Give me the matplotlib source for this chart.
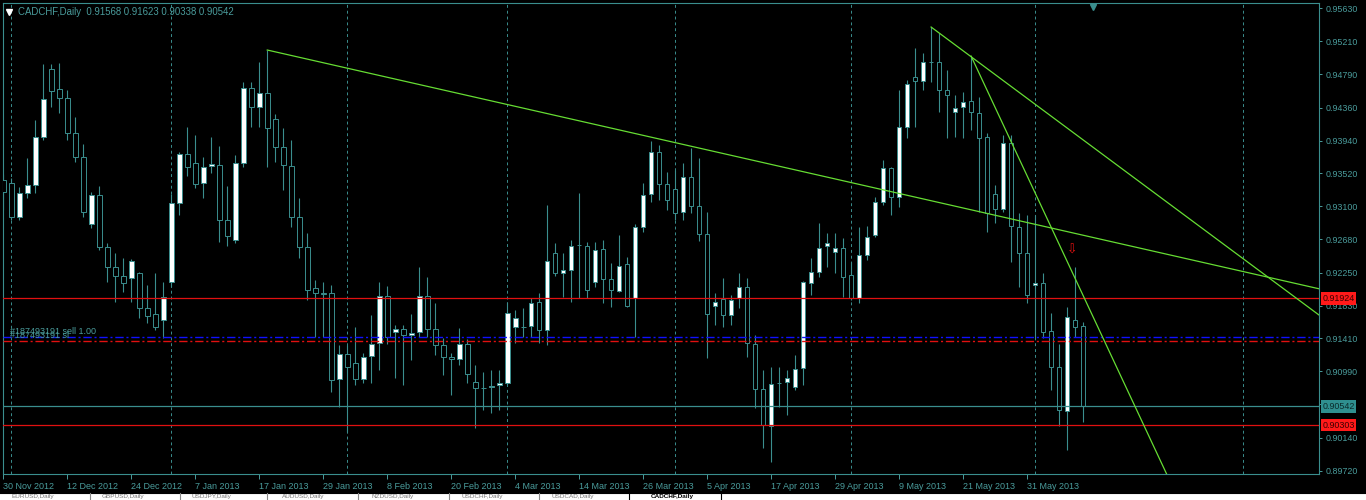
import matplotlib
matplotlib.use("Agg")
import matplotlib.pyplot as plt
import matplotlib.transforms as mtransforms
from matplotlib.patches import Rectangle
from matplotlib.lines import Line2D
import pandas as pd

plt.rcParams['font.family'] = ['Liberation Sans', 'DejaVu Sans']

W, H = 1366, 500
TEAL = '#3a8e8e'
TEAL_TXT = '#4a9c9c'
RED = '#e01010'
GREEN = '#66dd33'

symbol = "CADCHF,Daily"
holidays = ["2012-12-25", "2013-01-01"]
dates = pd.bdate_range("2012-11-30", "2013-06-11", freq="C", holidays=holidays)

# daily OHLC
opens = [0.93436, 0.93397, 0.92963, 0.93270, 0.93372, 0.93985, 0.94854, 0.94599, 0.94484, 0.94036,
         0.93730, 0.92873, 0.93244, 0.92579, 0.92324, 0.92209, 0.92183, 0.92247, 0.91800, 0.91723,
         0.91646, 0.92132, 0.93142, 0.93768, 0.93653, 0.93397, 0.93615, 0.93627, 0.92924, 0.92669,
         0.93653, 0.94611, 0.94369, 0.94548, 0.94215, 0.93857, 0.93615, 0.92963, 0.92579, 0.92055,
         0.91992, 0.91992, 0.90892, 0.91212, 0.91097, 0.90892, 0.91186, 0.91352, 0.91953, 0.91493,
         0.91531, 0.91455, 0.91493, 0.91953, 0.91531, 0.91327, 0.91174, 0.91148, 0.91340, 0.90854,
         0.90777, 0.90784, 0.90816, 0.90841, 0.91557, 0.91557, 0.91570, 0.91876, 0.91519, 0.92503,
         0.92247, 0.92285, 0.92605, 0.92592, 0.92132, 0.92554, 0.92170, 0.92017, 0.92362, 0.91928,
         0.92835, 0.93257, 0.93793, 0.93385, 0.93321, 0.93027, 0.93474, 0.93103, 0.92746, 0.91825,
         0.91915, 0.91710, 0.91928, 0.92068, 0.91340, 0.90765, 0.90292, 0.90841, 0.90854, 0.90790,
         0.91033, 0.92119, 0.92260, 0.92592, 0.92515, 0.92567, 0.92222, 0.91928, 0.92477, 0.92733,
         0.93154, 0.93589, 0.93218, 0.94113, 0.94752, 0.94701, 0.94944, 0.94944, 0.94586, 0.94305,
         0.94369, 0.94445, 0.94292, 0.93985, 0.93257, 0.93065, 0.93908, 0.92835, 0.92503, 0.92094,
         0.92119, 0.91506, 0.91046, 0.90483, 0.91646, 0.91568]
highs = [0.93512, 0.93461, 0.93346, 0.93717, 0.94202, 0.94918, 0.94918, 0.94931, 0.94586, 0.94241,
         0.93896, 0.93282, 0.93359, 0.92630, 0.92503, 0.92439, 0.92426, 0.92260, 0.92094, 0.92247,
         0.92132, 0.93257, 0.93793, 0.94113, 0.94011, 0.93730, 0.93985, 0.93870, 0.93359, 0.93755,
         0.94688, 0.94688, 0.94944, 0.95097, 0.94279, 0.94100, 0.93947, 0.93206, 0.92758, 0.92158,
         0.92132, 0.92094, 0.91327, 0.91327, 0.91557, 0.91225, 0.91710, 0.92132, 0.92081, 0.91582,
         0.91582, 0.91723, 0.92324, 0.92196, 0.91864, 0.91416, 0.91225, 0.91544, 0.91404, 0.91071,
         0.90982, 0.91007, 0.91007, 0.91876, 0.91774, 0.91800, 0.91928, 0.91992, 0.93116, 0.92630,
         0.92503, 0.92669, 0.93270, 0.92643, 0.92643, 0.92669, 0.92375, 0.92733, 0.92452, 0.92873,
         0.93397, 0.93934, 0.93883, 0.93538, 0.93563, 0.93653, 0.93845, 0.93717, 0.93027, 0.91992,
         0.92183, 0.91966, 0.92247, 0.92183, 0.91455, 0.91007, 0.91046, 0.91046, 0.91007, 0.91199,
         0.92145, 0.92439, 0.92886, 0.92758, 0.92758, 0.92694, 0.92388, 0.92835, 0.92848, 0.93218,
         0.93691, 0.93602, 0.94586, 0.94714, 0.95123, 0.95059, 0.95391, 0.95314, 0.94841, 0.94522,
         0.94560, 0.95020, 0.94496, 0.94036, 0.93372, 0.94011, 0.94011, 0.93014, 0.92988, 0.92988,
         0.92247, 0.91736, 0.91340, 0.91813, 0.92324, 0.91623]
lows = [0.93052, 0.92924, 0.92924, 0.93206, 0.93270, 0.93947, 0.94369, 0.94292, 0.93947, 0.93666,
        0.92963, 0.92822, 0.92541, 0.92132, 0.91876, 0.92004, 0.91876, 0.91672, 0.91608, 0.91519,
        0.91416, 0.92068, 0.92988, 0.93487, 0.93333, 0.93206, 0.93525, 0.92643, 0.92592, 0.92630,
        0.93602, 0.94113, 0.94113, 0.93602, 0.93666, 0.93308, 0.92835, 0.92439, 0.91902, 0.91429,
        0.91429, 0.90726, 0.90535, 0.90215, 0.90816, 0.90841, 0.90841, 0.91007, 0.91340, 0.90905,
        0.90816, 0.91135, 0.91429, 0.91429, 0.91199, 0.90944, 0.90688, 0.91071, 0.90841, 0.90266,
        0.90496, 0.90458, 0.90496, 0.90816, 0.91352, 0.91429, 0.91429, 0.91352, 0.91327, 0.92209,
        0.91940, 0.91876, 0.91928, 0.91928, 0.92068, 0.91864, 0.91813, 0.92004, 0.91813, 0.91429,
        0.92771, 0.93154, 0.93180, 0.93052, 0.92924, 0.92924, 0.93014, 0.92656, 0.91161, 0.91582,
        0.91557, 0.91582, 0.91800, 0.91174, 0.90522, 0.90011, 0.89832, 0.90535, 0.90432, 0.90752,
        0.90816, 0.91966, 0.92196, 0.92324, 0.92247, 0.91940, 0.91902, 0.91864, 0.92413, 0.92707,
        0.93116, 0.92988, 0.93091, 0.93972, 0.94113, 0.94586, 0.94688, 0.94305, 0.93972, 0.93985,
        0.93972, 0.94075, 0.93027, 0.92771, 0.92886, 0.93027, 0.92388, 0.92068, 0.91864, 0.91416,
        0.91416, 0.90752, 0.90292, 0.89985, 0.91429, 0.90338]
closes = [0.93282, 0.92963, 0.93270, 0.93372, 0.93985, 0.94471, 0.94573, 0.94484, 0.94036, 0.93730,
          0.93027, 0.93244, 0.92579, 0.92324, 0.92209, 0.92119, 0.92400, 0.91800, 0.91698, 0.91557,
          0.91940, 0.93142, 0.93768, 0.93602, 0.93385, 0.93602, 0.93640, 0.92924, 0.92720, 0.93653,
          0.94611, 0.94369, 0.94548, 0.94100, 0.93857, 0.93627, 0.92963, 0.92579, 0.92030, 0.91992,
          0.91985, 0.90880, 0.91212, 0.91046, 0.90892, 0.91174, 0.91340, 0.91953, 0.91429, 0.91531,
          0.91455, 0.91480, 0.91953, 0.91531, 0.91327, 0.91174, 0.91148, 0.91340, 0.90956, 0.90777,
          0.90774, 0.90809, 0.90841, 0.91736, 0.91672, 0.91559, 0.91864, 0.91519, 0.92400, 0.92247,
          0.92285, 0.92592, 0.92599, 0.92030, 0.92541, 0.92170, 0.92030, 0.92337, 0.91825, 0.92835,
          0.93244, 0.93793, 0.93385, 0.93180, 0.93014, 0.93474, 0.93103, 0.92746, 0.91723, 0.91876,
          0.91710, 0.91902, 0.92068, 0.91352, 0.90765, 0.90305, 0.90829, 0.90837, 0.90905, 0.91020,
          0.92132, 0.92260, 0.92567, 0.92630, 0.92567, 0.92196, 0.91928, 0.92477, 0.92707, 0.93154,
          0.93589, 0.93218, 0.94113, 0.94663, 0.94701, 0.94944, 0.94940, 0.94586, 0.94522, 0.94356,
          0.94432, 0.94305, 0.93972, 0.93014, 0.93065, 0.93908, 0.92848, 0.92503, 0.91966, 0.92119,
          0.91493, 0.91046, 0.90496, 0.91685, 0.91557, 0.90542]

red_levels = [0.91924, 0.90303]
bid = closes[-1]
order_price = 0.91425
stop_price = 0.91382
order_label = "#187493191 sell 1.00"
stop_label = "#187493191 sl"

# trend lines: (start bar, price), (second bar, price) -> extended to the right
trend_lines = [((33, 0.95097), (135, 0.92730)),
               ((116, 0.95391), (135, 0.93949)),
               ((121, 0.95020), (135, 0.91961))]
arrow_bar, arrow_price = 133.7, 0.9254

price_ticks = [0.95630, 0.95210, 0.94790, 0.94360, 0.93940, 0.93520, 0.93100, 0.92680,
               0.92250, 0.91830, 0.91410, 0.90990, 0.90570, 0.90140, 0.89720]
hidden_ticks = [0.90570]  # sits under the bid box
tabs = ["EURUSD,Daily", "GBPUSD,Daily", "USDJPY,Daily", "AUDUSD,Daily",
        "NZDUSD,Daily", "USDCHF,Daily", "USDCAD,Daily"]

x_max = 164.5
y_min, y_max = 0.89678, 0.95698

fig = plt.figure(figsize=(W / 100, H / 100), dpi=100, facecolor='black')
ax = fig.add_axes([2.5 / W, 26 / H, (1319 - 2.5) / W, 471 / H])
ax.set_facecolor('black')
ax.set_xlim(-0.1, x_max)
ax.set_ylim(y_min, y_max)

# month grid (plus the one in the empty shift area)
month_bars = [i for i in range(1, len(dates)) if dates[i].month != dates[i - 1].month]
month_bars.append(155)
for mb in month_bars:
    ax.axvline(mb, color=TEAL, lw=0.7, ls=(0, (3, 3)), zorder=1)

# candles
for i in range(len(opens)):
    o, h, l, c = opens[i], highs[i], lows[i], closes[i]
    ax.vlines(i, l, h, color=TEAL, lw=0.8, zorder=2)
    lo, hi = min(o, c), max(o, c)
    face = 'white' if c > o else 'black'
    ax.add_patch(Rectangle((i - 0.29, lo), 0.58, max(hi - lo, 1e-6),
                           facecolor=face, edgecolor=TEAL, lw=0.7, zorder=3))

# horizontal levels
for lv in red_levels:
    ax.axhline(lv, color=RED, lw=0.9, zorder=4)
ax.axhline(bid, color=TEAL, lw=0.9, zorder=4)
ax.axhline(order_price, color='#1010ff', lw=1.0, ls=(0, (6, 2, 1.5, 2)), zorder=4)
ax.axhline(stop_price, color=RED, lw=1.0, ls=(0, (6, 2, 1.5, 2)), zorder=4)
ax.text(0.85, order_price + 0.00012, order_label, color=TEAL_TXT, fontsize=6.5,
        va='bottom', ha='left', zorder=5)
ax.text(0.85, stop_price + 0.00010, stop_label, color=TEAL_TXT, fontsize=6.5,
        va='bottom', ha='left', zorder=5)

# trend lines
for (x1, y1), (x2, y2) in trend_lines:
    slope = (y2 - y1) / (x2 - x1)
    ax.plot([x1, x_max], [y1, y1 + slope * (x_max - x1)], color=GREEN, lw=0.9, zorder=5)

ax.text(arrow_bar, arrow_price, "\u21e9", color=RED, fontsize=9, ha='center', va='center',
        family='DejaVu Sans', zorder=6)

# axes styling
for sp in ax.spines.values():
    sp.set_color(TEAL)
    sp.set_linewidth(0.8)
ax.yaxis.tick_right()
ax.set_yticks(price_ticks)
ax.set_yticklabels(["" if p in hidden_ticks else f"{p:.5f}" for p in price_ticks])
ax.tick_params(axis='y', colors=TEAL_TXT, labelsize=6.4, length=2.5, width=0.7, pad=2)
xt = list(range(0, len(dates), 8))
ax.set_xticks(xt)
ax.set_xticklabels([f"{dates[i].day} {dates[i].strftime('%b %Y')}" for i in xt])
ax.tick_params(axis='x', colors=TEAL_TXT, labelsize=6.5, length=3.5, width=0.7, pad=2)
for lbl in ax.get_xticklabels():
    lbl.set_horizontalalignment('left')

# price boxes on the right scale
tr = mtransforms.blended_transform_factory(ax.transAxes, ax.transData)
for lv in red_levels:
    ax.text(1.0025, lv, f"{lv:.5f}", transform=tr, fontsize=6.4, color='#3a0000',
            va='center', ha='left', clip_on=False, zorder=10,
            bbox=dict(boxstyle='square,pad=0.2', fc='#ff1a1a', ec='none'))
ax.text(1.0025, bid, f"{bid:.5f}", transform=tr, fontsize=6.4, color='#0b2b2b',
        va='center', ha='left', clip_on=False, zorder=10,
        bbox=dict(boxstyle='square,pad=0.2', fc='#2f8f8f', ec='none'))

# chart shift marker
tr2 = mtransforms.blended_transform_factory(ax.transData, ax.transAxes)
ax.plot([len(dates) + 0.3], [0.992], marker='v', color=TEAL, markersize=5,
        transform=tr2, clip_on=False, zorder=10)

# header
header = f"{symbol}  " + " ".join(f"{v:.5f}" for v in (opens[-1], highs[-1], lows[-1], closes[-1]))
fig.text(18 / W, 1 - 12 / H, header, color=TEAL_TXT, fontsize=6.9, va='center', ha='left')
fig.add_artist(Line2D([9 / W], [1 - 12 / H], marker='v', color='white', markersize=4,
                      transform=fig.transFigure))

# tab strip at the bottom
fig.add_artist(Rectangle((0, 0), 1, 7 / H, transform=fig.transFigure,
                         facecolor='white', edgecolor='none'))
fig.add_artist(Line2D([0, 1], [7 / H, 7 / H], color='black', lw=0.8, transform=fig.transFigure))
seps = [90, 180, 267, 358, 449, 539, 629, 721]
for s in seps:
    fig.add_artist(Line2D([s / W, s / W], [0, 7 / H], color='#888888' if s < 620 else 'black',
                          lw=0.8, transform=fig.transFigure))
for j, t in enumerate(tabs):
    fig.text((12 + 90 * j) / W, 0.6 / H, t, color='#777777', fontsize=4.6,
             va='bottom', ha='left')
fig.text(651 / W, 0.6 / H, symbol, color='black', fontsize=4.6, va='bottom', ha='left',
         fontweight='bold')

fig.savefig("out.png", dpi=100, facecolor='black')
